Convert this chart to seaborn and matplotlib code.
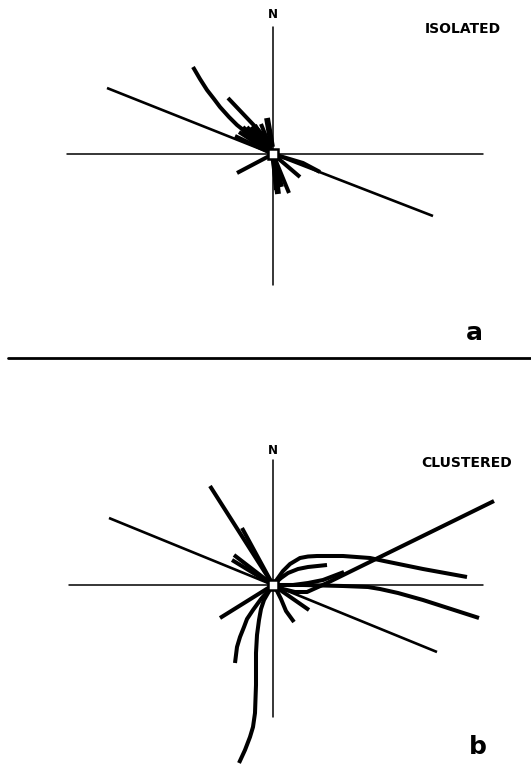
#!/usr/bin/env python3
"""
Trajetórias de orientação: indivíduos isolados (a) vs agrupados (b)
Coordenadas relativas ao ponto de soltura (x = leste, y = norte)
"""

import pandas as pd
import matplotlib.pyplot as plt
import seaborn as sns

# ---- painel a: ISOLATED ----
iso_heavy = {
    "n_stub": [(-6, 36), (-1, 7)],
    "fan_a": [(-30, 25), (-3, 3)],
    "fan_b": [(-22, 27), (-3, 3)],
    "s1": [(0, 0), (5, -40)],
    "s2": [(0, 0), (8, -33)],
}
iso_thick = {
    "nw_curve": [(-80, 87), (-73, 75), (-66, 64), (-59, 55), (-53, 47), (-44, 37),
                 (-36, 29), (-26, 21), (-16, 14), (-7, 6), (0, 0)],
    "nw_short": [(-45, 56), (-8, 17)],
    "fan1": [(-34, 22), (0, 0)],
    "fan2": [(-30, 27), (0, 0)],
    "fan3": [(-26, 27), (0, 0)],
    "fan4": [(-18, 29), (0, 0)],
    "fan5": [(-12, 30), (0, 0)],
    "fan6": [(-38, 18), (0, 0)],
    "sw": [(-36, -19), (0, 0)],
    "s3": [(0, 0), (16, -39)],
    "s4": [(0, 0), (3, -36)],
    "se1": [(0, 0), (27, -23)],
    "e1": [(0, 0), (30, -9), (47, -18)],
}
iso_thin = {
    "long": [(-166, 66), (0, 0), (160, -62)],
}
# extensão dos eixos (oeste, leste, sul, norte)
iso_arms = [-206, 210, -131, 127]

# ---- painel b: CLUSTERED ----
clu_heavy = {}
clu_thick = {
    "nw1": [(-63, 99), (0, 0)],
    "nw2": [(-31, 57), (0, 0)],
    "nw3": [(-39, 30), (0, 0)],
    "nw4": [(-41, 25), (0, 0)],
    "sw": [(-53, -33), (0, 0)],
    "s_curve": [(0, 0), (-5, -6), (-12, -14), (-20, -25), (-26, -34), (-29, -42),
                (-33, -52), (-36, -62), (-37, -70), (-38, -78)],
    "s_long": [(0, 0), (-5, -8), (-9, -15), (-12, -24), (-14, -35), (-16, -50),
               (-17, -68), (-17, -100), (-18, -128), (-20, -142), (-23, -152),
               (-28, -165), (-34, -178)],
    "se_short1": [(0, 0), (4, -6), (8, -14), (13, -26), (21, -37)],
    "se_short2": [(0, 0), (36, -25)],
    "ne_long": [(0, 0), (10, -4), (22, -7), (34, -7), (54, 2), (221, 84)],
    "upper": [(0, 0), (5, 7), (10, 14), (17, 21), (27, 27), (35, 28.5), (44, 29),
              (70, 29), (97, 27), (111, 24), (150, 16), (194, 8)],
    "arc": [(0, 0), (8, 7), (15, 12), (25, 16), (35, 18), (54, 20)],
    "east": [(0, 0), (30, 0), (70, -1), (95, -2), (107, -4), (125, -8),
             (150, -15), (206, -33)],
    "east2": [(0, 0), (20, 0), (35, 2), (50, 5), (71, 13)],
}
clu_thin = {
    "nw_long": [(-164, 67), (0, 0)],
    "se_long": [(0, 0), (164, -67)],
}
clu_arms = [-204, 210, -132, 125]


def to_frame(tracks):
    rows = []
    for name, pts in tracks.items():
        for i, (x, y) in enumerate(pts):
            rows.append({"track": name, "order": i, "x": x, "y": y})
    return pd.DataFrame(rows)


def draw_tracks(ax, tracks, lw, z):
    if not tracks:
        return
    sns.lineplot(data=to_frame(tracks), x="x", y="y", units="track", estimator=None,
                 sort=False, color="black", linewidth=lw, ax=ax, zorder=z,
                 solid_capstyle="butt", solid_joinstyle="round")


def draw_panel(ax, heavy, thick, thin, arms, title, n_y, title_xy, letter, letter_xy):
    w, e, s, n = arms
    ax.plot([w, e], [0, 0], color="black", lw=1.1, zorder=1)
    ax.plot([0, 0], [s, n], color="black", lw=1.1, zorder=1)

    draw_tracks(ax, thin, 1.9, 2)
    draw_tracks(ax, thick, 2.9, 3)
    draw_tracks(ax, heavy, 4.2, 4)

    ax.plot([0], [0], marker="s", ms=6.5, mfc="white", mec="black", mew=1.8, zorder=5)

    ax.text(0, n_y, "N", ha="center", va="center", fontsize=8.5, fontweight="bold")
    ax.text(*title_xy, title, ha="center", va="center", fontsize=10, fontweight="bold")
    ax.text(*letter_xy, letter, ha="center", va="center", fontsize=18, fontweight="bold")
    ax.set_axis_off()


sns.set_style("white")
plt.rcParams["font.family"] = ["DejaVu Sans"]
plt.rcParams["text.color"] = "black"

fig = plt.figure(figsize=(5.31, 7.65), dpi=100)
fig.patch.set_facecolor("white")

ax_a = fig.add_axes([0, 410 / 765, 1, 355 / 765])
ax_a.set_xlim(-273, 258)
ax_a.set_ylim(-201, 154)
draw_panel(ax_a, iso_heavy, iso_thick, iso_thin, iso_arms, "ISOLATED", 140,
           (190, 125), "a", (201, -179))

ax_b = fig.add_axes([0, 0, 1, 410 / 765])
ax_b.set_xlim(-273, 258)
ax_b.set_ylim(-180, 230)
draw_panel(ax_b, clu_heavy, clu_thick, clu_thin, clu_arms, "CLUSTERED", 135,
           (194, 122), "b", (205, -162))

# linha separadora entre os painéis
ax_b.axhline(227, xmin=8 / 531, xmax=1, color="black", lw=2)

fig.savefig("out.png", dpi=100)
plt.close(fig)
